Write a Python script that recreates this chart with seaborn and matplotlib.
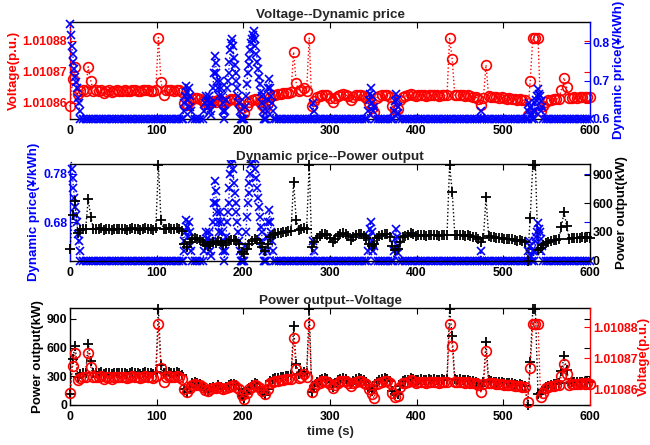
import numpy as np
import seaborn as sns
import matplotlib.pyplot as plt
from matplotlib.ticker import FormatStrFormatter
from matplotlib.transforms import Bbox, TransformedBbox

sns.set_style('ticks')
plt.rcParams['font.family'] = ['Liberation Sans', 'DejaVu Sans']
plt.rcParams['font.weight'] = 'bold'
plt.rcParams['axes.labelweight'] = 'bold'
plt.rcParams['axes.titleweight'] = 'bold'

# 采样时刻 (s)，功率与电压每 3 s 一个点
time_s = np.arange(0, 601, 3)

# 功率 (kW)
power_kw = [
    120, 480, 620, 290, 325, 335, 330, 640, 460, 330,
    335, 330, 340, 325, 330, 335, 320, 330, 335, 330,
    330, 335, 325, 330, 340, 335, 330, 325, 335, 340,
    335, 330, 325, 340, 1000, 420, 330, 335, 340, 335,
    330, 340, 335, 310, 170, 140, 190, 225, 235, 230,
    220, 195, 160, 150, 175, 190, 180, 205, 190, 165,
    185, 205, 215, 220, 205, 170, 95, 70, 125, 175,
    205, 225, 215, 185, 140, 105, 170, 250, 270, 280,
    285, 290, 295, 300, 305, 310, 820, 430, 320, 335,
    345, 330, 1000, 140, 195, 240, 260, 275, 280, 270,
    235, 190, 230, 260, 275, 285, 275, 255, 220, 250,
    270, 280, 275, 260, 235, 175, 150, 170, 235, 260,
    270, 280, 275, 250, 150, 110, 120, 200, 250, 260,
    265, 285, 275, 260, 265, 270, 265, 260, 270, 265,
    270, 265, 260, 270, 265, 270, 1000, 720, 270, 265,
    270, 265, 260, 265, 255, 250, 245, 225, 200, 235,
    660, 260, 250, 245, 240, 235, 240, 230, 225, 230,
    225, 215, 210, 215, 205, 200, 0, 450, 1000, 1000,
    110, 130, 160, 185, 200, 210, 215, 220, 225, 350,
    510, 365, 230, 235, 240, 235, 240, 245, 240, 245,
    240]

# 电压 (p.u.)
voltage_pu = [
    1.0108589, 1.0108676, 1.0108717, 1.0108630, 1.0108638, 1.0108640, 1.0108639, 1.0108716, 1.0108671, 1.0108639,
    1.0108640, 1.0108639, 1.0108642, 1.0108633, 1.0108639, 1.0108640, 1.0108634, 1.0108639, 1.0108640, 1.0108639,
    1.0108639, 1.0108640, 1.0108638, 1.0108639, 1.0108642, 1.0108640, 1.0108639, 1.0108638, 1.0108640, 1.0108642,
    1.0108640, 1.0108639, 1.0108638, 1.0108642, 1.0108810, 1.0108668, 1.0108625, 1.0108640, 1.0108642, 1.0108640,
    1.0108639, 1.0108642, 1.0108640, 1.0108634, 1.0108601, 1.0108592, 1.0108606, 1.0108614, 1.0108616, 1.0108615,
    1.0108613, 1.0108607, 1.0108598, 1.0108596, 1.0108602, 1.0108606, 1.0108603, 1.0108609, 1.0108606, 1.0108600,
    1.0108604, 1.0108609, 1.0108612, 1.0108613, 1.0108609, 1.0108601, 1.0108583, 1.0108568, 1.0108590, 1.0108602,
    1.0108609, 1.0108614, 1.0108612, 1.0108604, 1.0108594, 1.0108585, 1.0108601, 1.0108620, 1.0108625, 1.0108627,
    1.0108628, 1.0108630, 1.0108631, 1.0108632, 1.0108633, 1.0108634, 1.0108764, 1.0108665, 1.0108637, 1.0108640,
    1.0108648, 1.0108639, 1.0108810, 1.0108591, 1.0108607, 1.0108618, 1.0108622, 1.0108626, 1.0108627, 1.0108625,
    1.0108616, 1.0108603, 1.0108615, 1.0108622, 1.0108626, 1.0108628, 1.0108626, 1.0108621, 1.0108610, 1.0108620,
    1.0108625, 1.0108627, 1.0108626, 1.0108622, 1.0108616, 1.0108600, 1.0108585, 1.0108572, 1.0108616, 1.0108622,
    1.0108625, 1.0108627, 1.0108626, 1.0108620, 1.0108590, 1.0108577, 1.0108580, 1.0108608, 1.0108620, 1.0108622,
    1.0108624, 1.0108629, 1.0108626, 1.0108622, 1.0108624, 1.0108625, 1.0108624, 1.0108622, 1.0108625, 1.0108624,
    1.0108625, 1.0108624, 1.0108622, 1.0108625, 1.0108624, 1.0108625, 1.0108810, 1.0108740, 1.0108625, 1.0108624,
    1.0108625, 1.0108624, 1.0108622, 1.0108624, 1.0108621, 1.0108620, 1.0108619, 1.0108614, 1.0108592, 1.0108616,
    1.0108722, 1.0108622, 1.0108620, 1.0108619, 1.0108618, 1.0108616, 1.0108618, 1.0108615, 1.0108614, 1.0108615,
    1.0108614, 1.0108612, 1.0108610, 1.0108612, 1.0108609, 1.0108608, 1.0108560, 1.0108670, 1.0108810, 1.0108810,
    1.0108810, 1.0108575, 1.0108590, 1.0108604, 1.0108608, 1.0108610, 1.0108612, 1.0108613, 1.0108614, 1.0108643,
    1.0108681, 1.0108650, 1.0108615, 1.0108616, 1.0108618, 1.0108616, 1.0108618, 1.0108619, 1.0108618, 1.0108619,
    1.0108618]

# 电价的采样时刻 (s)，波动段逐秒
price_t = [
    0, 1, 2, 3, 4, 5, 6, 7, 8, 9, 10, 11, 12,
    15, 18, 21, 24, 27, 30, 33, 36, 39, 42, 45, 48, 51, 54, 57, 60, 63, 66, 69, 72,
    75, 78, 81, 84, 87, 90, 93, 96, 99, 102, 105, 108, 111, 114, 117, 120, 123, 126, 129,
    130, 131, 132, 133, 134, 135, 136, 137, 138, 139, 140, 141,
    144, 147, 150, 153,
    155, 156, 157, 158, 159, 160, 161, 162, 163,
    164, 165, 166, 167, 168, 169, 170, 171, 172, 173, 174, 175, 176, 177, 178,
    179, 180, 181, 182, 183, 184, 185, 186, 187, 188, 189, 190, 191, 192, 193, 194, 195, 196, 197, 198,
    199, 200, 201, 202, 203, 204, 205, 206, 207, 208, 209, 210, 211, 212, 213, 214, 215, 216, 217, 218,
    219, 220, 221, 222, 223, 224, 225,
    226, 227, 228, 229, 230, 231, 232, 233, 234, 235,
    238, 241, 244, 247, 250, 253, 256, 259, 262, 265, 268, 271, 274, 277,
    279, 280, 281,
    283, 286, 289, 292, 295, 298, 301, 304, 307, 310, 313, 316, 319, 322, 325, 328, 331, 334, 337, 340, 343,
    344, 345, 346, 347, 348, 349, 350, 351, 352,
    355, 358, 361, 364, 367, 370, 373,
    374, 375, 376, 377, 378, 379, 380,
    383, 386, 389, 392, 395, 398, 401, 404, 407, 410, 413, 416, 419, 422, 425, 428, 431, 434, 437, 440,
    443, 446, 449, 452, 455, 458, 461, 464, 467, 470,
    473, 474, 475,
    478, 481, 484, 487, 490, 493, 496, 499, 502, 505, 508, 511, 514, 517, 520, 523, 526,
    528, 529, 530, 531, 532, 533, 534, 535, 536, 537, 538, 539, 540, 541, 542, 543, 544, 545, 546,
    549, 552, 555, 558, 561, 564, 567, 570, 573, 576, 579, 582, 585, 588, 591, 594, 597, 600]

# 动态电价 (¥/kWh)
price_yuan = [
    0.85, 0.82, 0.79, 0.77, 0.75, 0.73, 0.71, 0.695, 0.68, 0.655, 0.64, 0.62, 0.6,
    0.6, 0.6, 0.6, 0.6, 0.6, 0.6, 0.6, 0.6, 0.6, 0.6, 0.6, 0.6, 0.6, 0.6, 0.6, 0.6, 0.6, 0.6, 0.6, 0.6,
    0.6, 0.6, 0.6, 0.6, 0.6, 0.6, 0.6, 0.6, 0.6, 0.6, 0.6, 0.6, 0.6, 0.6, 0.6, 0.6, 0.6, 0.6, 0.6,
    0.6, 0.62, 0.64, 0.66, 0.685, 0.67, 0.65, 0.68, 0.66, 0.63, 0.62, 0.6,
    0.6, 0.6, 0.6, 0.6,
    0.62, 0.64, 0.66, 0.645, 0.63, 0.66, 0.64, 0.62, 0.61,
    0.64, 0.68, 0.72, 0.765, 0.745, 0.72, 0.70, 0.68, 0.66, 0.70, 0.68, 0.66, 0.64, 0.62, 0.6,
    0.62, 0.65, 0.68, 0.70, 0.72, 0.75, 0.78, 0.80, 0.81, 0.79, 0.76, 0.74, 0.72, 0.70, 0.68, 0.66, 0.64, 0.62, 0.6, 0.6,
    0.6, 0.6, 0.6, 0.63, 0.66, 0.69, 0.72, 0.74, 0.76, 0.78, 0.80, 0.81, 0.82, 0.83, 0.81, 0.79, 0.77, 0.75, 0.73, 0.71,
    0.69, 0.67, 0.66, 0.64, 0.62, 0.6, 0.6,
    0.6, 0.62, 0.65, 0.68, 0.705, 0.68, 0.66, 0.64, 0.62, 0.6,
    0.6, 0.6, 0.6, 0.6, 0.6, 0.6, 0.6, 0.6, 0.6, 0.6, 0.6, 0.6, 0.6, 0.6,
    0.6, 0.64, 0.62,
    0.6, 0.6, 0.6, 0.6, 0.6, 0.6, 0.6, 0.6, 0.6, 0.6, 0.6, 0.6, 0.6, 0.6, 0.6, 0.6, 0.6, 0.6, 0.6, 0.6, 0.6,
    0.62, 0.65, 0.665, 0.68, 0.66, 0.64, 0.62, 0.63, 0.6,
    0.6, 0.6, 0.6, 0.6, 0.6, 0.6, 0.6,
    0.62, 0.645, 0.665, 0.65, 0.63, 0.615, 0.6,
    0.6, 0.6, 0.6, 0.6, 0.6, 0.6, 0.6, 0.6, 0.6, 0.6, 0.6, 0.6, 0.6, 0.6, 0.6, 0.6, 0.6, 0.6, 0.6, 0.6,
    0.6, 0.6, 0.6, 0.6, 0.6, 0.6, 0.6, 0.6, 0.6, 0.6,
    0.6, 0.62, 0.6,
    0.6, 0.6, 0.6, 0.6, 0.6, 0.6, 0.6, 0.6, 0.6, 0.6, 0.6, 0.6, 0.6, 0.6, 0.6, 0.6, 0.6,
    0.6, 0.62, 0.64, 0.63, 0.61, 0.6, 0.62, 0.6, 0.64, 0.62, 0.65, 0.66, 0.677, 0.665, 0.66, 0.645, 0.62, 0.63, 0.6,
    0.6, 0.6, 0.6, 0.6, 0.6, 0.6, 0.6, 0.6, 0.6, 0.6, 0.6, 0.6, 0.6, 0.6, 0.6, 0.6, 0.6, 0.6]

V_LIM = (1.010855, 1.010886)
P_LIM = (0, 1010)


def draw(ax, x, y, color, marker, size, mew):
    sns.lineplot(x=x, y=y, ax=ax, color=color, marker=marker, linestyle=':',
                 linewidth=1.0, markersize=size, markerfacecolor='none',
                 markeredgecolor=color, markeredgewidth=mew,
                 estimator=None, sort=False)
    # 类似 MATLAB：边界上的标记不被裁掉一半
    box = TransformedBbox(Bbox([[-0.012, -0.045], [1.012, 1.045]]), ax.transAxes)
    for line in ax.lines:
        line.set_clip_path(None)
        line.set_clip_box(box)


def style(ax, ax2, lc, rc, title, llabel, rlabel, rpad=2):
    ax.set_xlim(0, 600)
    ax.set_xticks([0, 100, 200, 300, 400, 500, 600])
    ax.tick_params(axis='x', direction='in', top=True, length=4, labelsize=8.8,
                   pad=4.5, colors='black')
    ax.tick_params(axis='y', direction='in', right=True, length=4, labelsize=8.8,
                   pad=2, colors=lc)
    ax2.tick_params(axis='y', direction='in', length=4, labelsize=8.8,
                    pad=2, colors=rc)
    ax.spines['left'].set_color(lc)
    ax.spines['right'].set_visible(False)
    for s in ['top', 'bottom']:
        ax.spines[s].set_color('black')
        ax2.spines[s].set_visible(False)
    ax2.spines['left'].set_visible(False)
    ax2.spines['right'].set_color(rc)
    for a in (ax, ax2):
        for s in a.spines.values():
            s.set_linewidth(1.0)
    ax.set_title(title, fontsize=9.7, pad=3)
    ax.set_ylabel(llabel, color=lc, fontsize=9.5, labelpad=2)
    ax2.set_ylabel(rlabel, color=rc, fontsize=9.5, labelpad=rpad)
    ax.set_xlabel('')


fig = plt.figure(figsize=(6.5, 4.45), dpi=100)

# 上：电压--电价
ax1 = fig.add_axes([0.1077, 0.7337, 0.8, 0.2169])
ax1b = ax1.twinx()
draw(ax1, time_s, voltage_pu, 'red', 'o', 7, 1.2)
draw(ax1b, price_t, price_yuan, 'blue', 'x', 6, 1.2)
ax1.set_ylim(*V_LIM)
ax1.set_yticks([1.01086, 1.01087, 1.01088])
ax1.yaxis.set_major_formatter(FormatStrFormatter('%.5f'))
ax1b.set_ylim(0.6, 0.854)
ax1b.set_yticks([0.6, 0.7, 0.8])
ax1b.yaxis.set_major_formatter(FormatStrFormatter('%.1f'))
style(ax1, ax1b, 'red', 'blue', 'Voltage--Dynamic price',
      'Voltage(p.u.)', 'Dynamic price(¥/kWh)')

# 中：电价--功率
ax2 = fig.add_axes([0.1077, 0.4142, 0.8, 0.2173])
ax2b = ax2.twinx()
draw(ax2, price_t, price_yuan, 'blue', 'x', 6, 1.2)
draw(ax2b, time_s, power_kw, 'black', '+', 7, 1.3)
ax2.set_ylim(0.6, 0.8)
ax2.set_yticks([0.68, 0.78])
ax2.yaxis.set_major_formatter(FormatStrFormatter('%.2f'))
ax2b.set_ylim(*P_LIM)
ax2b.set_yticks([0, 300, 600, 900])
style(ax2, ax2b, 'blue', 'black', 'Dynamic price--Power output',
      'Dynamic price(¥/kWh)', 'Power output(kW)')

# 下：功率--电压
ax3 = fig.add_axes([0.1077, 0.0899, 0.8, 0.2173])
ax3b = ax3.twinx()
draw(ax3, time_s, power_kw, 'black', '+', 7, 1.3)
draw(ax3b, time_s, voltage_pu, 'red', 'o', 7, 1.2)
ax3.set_ylim(*P_LIM)
ax3.set_yticks([0, 300, 600, 900])
ax3b.set_ylim(*V_LIM)
ax3b.set_yticks([1.01086, 1.01087, 1.01088])
ax3b.yaxis.set_major_formatter(FormatStrFormatter('%.5f'))
style(ax3, ax3b, 'black', 'red', 'Power output--Voltage',
      'Power output(kW)', 'Voltage(p.u.)', rpad=0.5)
ax3.set_xlabel('time (s)', fontsize=9.5, labelpad=2)

fig.savefig('out.png', dpi=100, facecolor='white')
